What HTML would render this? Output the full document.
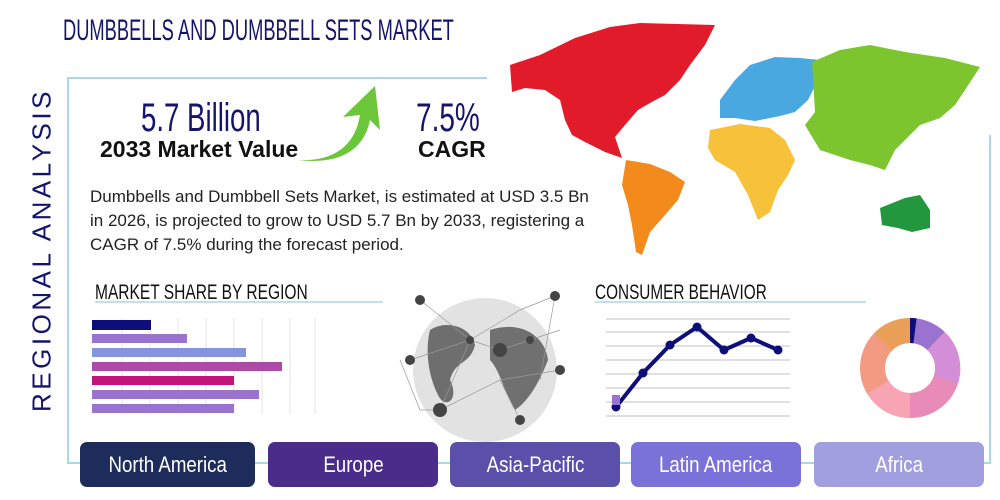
<!DOCTYPE html>
<html><head><meta charset="utf-8"><style>
body{margin:0;width:1000px;height:500px;background:#fff;position:relative;overflow:hidden;font-family:"Liberation Sans",sans-serif}
.a{position:absolute;white-space:nowrap}
.cond{transform-origin:left top}
.btn{position:absolute;top:442px;height:45px;border-radius:7px;color:#fff;font-size:22px;display:flex;align-items:center;justify-content:center;white-space:nowrap}
.btn span{display:inline-block;transform:scaleX(.85)}
</style></head><body>
<svg class="a" style="left:0;top:0" width="1000" height="500">
<polyline points="487,78 68,78 68,463 990,463 990,135" fill="none" stroke="#a9d8e8" stroke-width="2"/>
<polygon fill="#e21b2b" points="510,65 540,55 575,38 610,27 640,23 715,25 705,45 690,65 680,80 665,95 650,103 638,110 625,125 615,137 622,158 605,152 585,142 572,135 565,120 560,100 545,90 525,88 512,92"/>
<polygon fill="#f28b1c" points="626,160 650,164 670,172 685,182 678,200 665,215 650,232 642,255 636,252 632,225 628,205 622,185"/>
<polygon fill="#4aa8e0" points="720,100 735,80 750,65 775,57 800,58 820,60 818,80 808,100 795,112 780,116 755,121 735,118 720,118"/>
<polygon fill="#7dc52e" points="812,62 840,50 870,45 905,52 945,58 980,67 965,90 955,105 940,118 920,125 905,140 895,150 885,170 870,165 850,160 835,155 820,150 805,125 815,112"/>
<polygon fill="#f8c13a" points="710,130 740,124 770,128 785,140 795,160 788,175 778,190 770,212 758,220 748,195 735,172 715,160 708,148"/>
<polygon fill="#23973d" points="880,208 905,198 920,195 930,210 930,228 912,232 898,228 882,225"/>
<path d="M298,160 C340,162 356,140 360,115 L343,117 L375,86 L380,130 L370,120 C364,150 340,165 298,160 Z" fill="#6cc63a"/>
<g stroke="#e4e4e4" stroke-width="1">
<line x1="122" y1="318" x2="122" y2="414"/><line x1="150" y1="318" x2="150" y2="414"/><line x1="178" y1="318" x2="178" y2="414"/><line x1="206" y1="318" x2="206" y2="414"/><line x1="234" y1="318" x2="234" y2="414"/><line x1="262" y1="318" x2="262" y2="414"/><line x1="290" y1="318" x2="290" y2="414"/><line x1="315" y1="318" x2="315" y2="414"/>
</g>
<rect x="92" y="320" width="59" height="10" fill="#0e0e7a"/>
<rect x="92" y="334" width="95" height="9" fill="#9a72cf"/>
<rect x="92" y="348" width="154" height="9" fill="#8494de"/>
<rect x="92" y="362" width="190" height="9" fill="#ad4aa8"/>
<rect x="92" y="376" width="142" height="9" fill="#c3147a"/>
<rect x="92" y="390" width="167" height="9" fill="#9a72cf"/>
<rect x="92" y="404" width="142" height="9" fill="#9a72cf"/>
<line x1="95" y1="302" x2="383" y2="302" stroke="#a9d8e8" stroke-width="1.5"/>
<line x1="595" y1="302" x2="866" y2="302" stroke="#a9d8e8" stroke-width="1.5"/>
<circle cx="485" cy="370" r="72" fill="#e2e2e2"/>
<path d="M430,330 C445,320 470,325 475,345 C470,365 455,360 450,380 C460,400 445,410 438,395 C428,375 425,350 430,330Z" fill="#6e6e6e"/>
<path d="M490,330 C520,320 545,335 548,360 C540,380 530,400 515,410 C505,395 500,370 490,360 Z" fill="#707070"/>
<g stroke="#999" stroke-width="0.7" fill="none">
<path d="M420,300 L470,340 L520,310 L555,296 M470,340 L440,410 L500,380 L560,370 M410,360 L470,340 L500,350 L530,340 L560,330 M500,380 L520,420 M440,410 L420,410 L400,360 M555,296 L540,380"/>
</g>
<g fill="#444"><circle cx="420" cy="300" r="5"/><circle cx="555" cy="296" r="5"/><circle cx="500" cy="350" r="7"/><circle cx="440" cy="410" r="7"/><circle cx="520" cy="420" r="5"/><circle cx="560" cy="370" r="5"/><circle cx="410" cy="360" r="5"/><circle cx="470" cy="340" r="4"/><circle cx="530" cy="340" r="4"/></g>
<g stroke="#d6d6d6" stroke-width="1.5">
<line x1="606" y1="319" x2="790" y2="319"/><line x1="606" y1="332" x2="790" y2="332"/><line x1="606" y1="346" x2="790" y2="346"/><line x1="606" y1="360" x2="790" y2="360"/><line x1="606" y1="374" x2="790" y2="374"/><line x1="606" y1="388" x2="790" y2="388"/><line x1="606" y1="402" x2="790" y2="402"/><line x1="606" y1="416" x2="790" y2="416"/>
</g>
<polyline points="616,407 643,373 670,345 697,327 724,350 751,338 778,350" fill="none" stroke="#0e0e7a" stroke-width="4"/>
<g fill="#0e0e7a"><circle cx="616" cy="407" r="4.5"/><circle cx="643" cy="373" r="4.5"/><circle cx="670" cy="345" r="4.5"/><circle cx="697" cy="327" r="4.5"/><circle cx="724" cy="350" r="4.5"/><circle cx="751" cy="338" r="4.5"/><circle cx="778" cy="350" r="4.5"/></g>
<rect x="612" y="395" width="8" height="10" fill="#9a72cf"/>
<g transform="translate(910,368)" fill="none" stroke-width="25">
<circle r="37.5" stroke="#f39a82"/>
<path d="M0,-37.5 A37.5,37.5 0 0 1 26,-27" stroke="#9a72cf"/>
<path d="M0,-37.5 A37.5,37.5 0 0 1 5,-37.2" stroke="#0e0e7a"/>
<path d="M26,-27 A37.5,37.5 0 0 1 36,12" stroke="#d48ed8"/>
<path d="M36,12 A37.5,37.5 0 0 1 0,37.5" stroke="#e88bb8"/>
<path d="M0,37.5 A37.5,37.5 0 0 1 -32,19" stroke="#f7a4b4"/>
<path d="M-27,-26 A37.5,37.5 0 0 1 0,-37.5" stroke="#eba05a"/>
</g>
</svg>
<div class="a cond" style="left:63px;top:14px;font-size:30px;color:#14146b;transform:scaleX(.61)">DUMBBELLS AND DUMBBELL SETS MARKET</div>
<div class="a" style="left:42px;top:250px;font-size:26px;color:#14146b;letter-spacing:3.5px;transform:translate(-50%,-50%) rotate(-90deg)">REGIONAL ANALYSIS</div>
<div class="a cond" style="left:141px;top:96px;font-size:40px;color:#14146b;transform:scaleX(.69)">5.7 Billion</div>
<div class="a" style="left:100px;top:136px;font-size:23px;font-weight:bold;color:#111">2033 Market Value</div>
<div class="a cond" style="left:416px;top:96px;font-size:40px;color:#14146b;transform:scaleX(.7)">7.5%</div>
<div class="a" style="left:418px;top:136px;font-size:23px;font-weight:bold;color:#111">CAGR</div>
<div class="a" style="left:90px;top:185px;font-size:17px;line-height:24px;color:#222">Dumbbells and Dumbbell Sets Market, is estimated at USD 3.5 Bn<br>in 2026, is projected to grow to USD 5.7 Bn by 2033, registering a<br>CAGR of 7.5% during the forecast period.</div>
<div class="a cond" style="left:95px;top:281px;font-size:21px;color:#111;transform:scaleX(.74)">MARKET SHARE BY REGION</div>
<div class="a cond" style="left:595px;top:281px;font-size:21px;color:#111;transform:scaleX(.73)">CONSUMER BEHAVIOR</div>
<div class="btn" style="left:80px;width:175px;background:#1d2c5a"><span>North America</span></div>
<div class="btn" style="left:268px;width:170px;background:#4a2d8b"><span>Europe</span></div>
<div class="btn" style="left:450px;width:170px;background:#5a50a9"><span>Asia-Pacific</span></div>
<div class="btn" style="left:631px;width:170px;background:#7a72d8"><span>Latin America</span></div>
<div class="btn" style="left:814px;width:170px;background:#a19fe0"><span>Africa</span></div>
</body></html>
